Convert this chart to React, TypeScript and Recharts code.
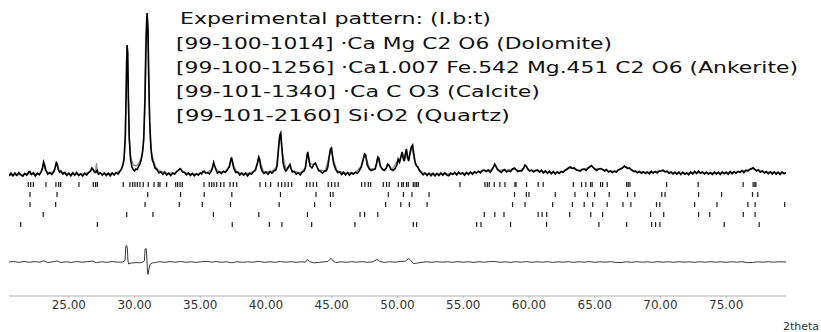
import { ComposedChart, Line, Scatter, XAxis, YAxis } from "recharts";

// observed pattern, 2theta vs counts
const observedCounts: [number, number][] = [
  [20.45, 110], [20.6, 138], [20.75, 112], [20.9, 140], [21.05, 115], [21.2, 145], [21.35, 120], [21.5, 108],
  [21.65, 135], [21.8, 118], [21.95, 150], [22.05, 155], [22.15, 125], [22.3, 142], [22.45, 110], [22.6, 138],
  [22.75, 122], [22.9, 150], [23.0, 195], [23.08, 250], [23.15, 225], [23.25, 170], [23.4, 128], [23.55, 145],
  [23.7, 125], [23.85, 150], [23.95, 190], [24.05, 245], [24.12, 230], [24.2, 175], [24.3, 148], [24.4, 160],
  [24.55, 130], [24.7, 145], [24.85, 115], [25.0, 140], [25.15, 112], [25.3, 142], [25.45, 118], [25.6, 145],
  [25.75, 115], [25.9, 132], [26.05, 110], [26.2, 138], [26.35, 120], [26.5, 145], [26.65, 160], [26.75, 190],
  [26.85, 175], [26.95, 150], [27.05, 145], [27.15, 165], [27.25, 128], [27.4, 142], [27.55, 118], [27.7, 140],
  [27.85, 115], [28.0, 138], [28.15, 112], [28.3, 140], [28.45, 120], [28.6, 145], [28.75, 130], [28.9, 160],
  [29.0, 180], [29.1, 215], [29.2, 280], [29.3, 520], [29.38, 1050], [29.43, 1420], [29.48, 1350], [29.53, 900],
  [29.6, 480], [29.7, 270], [29.8, 200], [29.9, 175], [30.0, 160], [30.1, 180], [30.2, 175], [30.3, 205],
  [30.4, 225], [30.5, 270], [30.6, 340], [30.7, 480], [30.8, 900], [30.88, 1450], [30.95, 1740], [31.02, 1600],
  [31.08, 1100], [31.15, 650], [31.25, 380], [31.35, 270], [31.45, 240], [31.55, 190], [31.7, 175], [31.85, 140],
  [32.0, 152], [32.15, 125], [32.3, 150], [32.45, 120], [32.6, 138], [32.75, 115], [32.9, 140], [33.05, 128],
  [33.2, 155], [33.35, 168], [33.45, 185], [33.55, 175], [33.65, 150], [33.8, 145], [33.95, 122], [34.1, 140],
  [34.25, 115], [34.4, 135], [34.55, 112], [34.7, 132], [34.85, 118], [35.0, 142], [35.1, 130], [35.2, 155],
  [35.3, 158], [35.4, 140], [35.55, 145], [35.7, 132], [35.85, 160], [35.95, 205], [36.02, 245], [36.1, 210],
  [36.2, 170], [36.3, 140], [36.45, 152], [36.6, 135], [36.75, 158], [36.9, 145], [37.05, 170], [37.2, 200],
  [37.3, 260], [37.38, 295], [37.45, 250], [37.55, 185], [37.7, 145], [37.85, 150], [38.0, 120], [38.15, 138],
  [38.3, 118], [38.45, 140], [38.6, 112], [38.75, 138], [38.9, 128], [39.05, 155], [39.2, 175], [39.35, 240],
  [39.45, 300], [39.52, 275], [39.6, 200], [39.7, 160], [39.85, 135], [40.0, 150], [40.15, 128], [40.3, 155],
  [40.45, 138], [40.6, 160], [40.75, 170], [40.85, 220], [40.95, 380], [41.05, 520], [41.12, 540], [41.2, 400],
  [41.3, 240], [41.4, 185], [41.5, 160], [41.6, 175], [41.75, 210], [41.82, 225], [41.9, 185], [42.0, 150],
  [42.15, 155], [42.3, 128], [42.45, 142], [42.6, 120], [42.75, 150], [42.9, 160], [43.0, 200], [43.1, 300],
  [43.17, 350], [43.25, 290], [43.35, 210], [43.5, 190], [43.65, 230], [43.75, 240], [43.85, 210], [44.0, 165],
  [44.15, 155], [44.3, 138], [44.45, 158], [44.6, 165], [44.7, 200], [44.8, 300], [44.9, 380], [44.98, 390],
  [45.05, 320], [45.15, 230], [45.3, 175], [45.45, 145], [45.6, 150], [45.75, 125], [45.9, 148], [46.05, 120],
  [46.2, 145], [46.35, 118], [46.5, 142], [46.65, 128], [46.8, 148], [46.95, 135], [47.1, 165], [47.25, 200],
  [47.4, 280], [47.5, 330], [47.58, 320], [47.7, 220], [47.85, 180], [48.0, 165], [48.15, 172], [48.3, 180],
  [48.4, 230], [48.5, 300], [48.58, 290], [48.7, 210], [48.85, 175], [49.0, 165], [49.15, 190], [49.25, 230],
  [49.35, 220], [49.5, 175], [49.65, 165], [49.8, 180], [49.95, 220], [50.05, 280], [50.15, 250], [50.25, 300],
  [50.35, 350], [50.42, 300], [50.5, 260], [50.6, 330], [50.68, 380], [50.75, 300], [50.85, 260], [50.95, 340],
  [51.05, 400], [51.15, 420], [51.25, 320], [51.35, 240], [51.45, 210], [51.55, 200], [51.65, 170], [51.8, 145],
  [51.95, 122], [52.1, 140], [52.25, 115], [52.4, 138], [52.55, 112], [52.7, 136], [52.85, 110], [53.0, 135],
  [53.15, 115], [53.3, 140], [53.45, 118], [53.6, 142], [53.75, 120], [53.9, 112], [54.05, 138], [54.2, 125],
  [54.35, 145], [54.5, 120], [54.65, 148], [54.8, 130], [54.95, 142], [55.1, 118], [55.25, 145], [55.4, 125],
  [55.55, 150], [55.7, 128], [55.85, 152], [56.0, 140], [56.15, 158], [56.3, 142], [56.45, 165], [56.6, 170],
  [56.75, 155], [56.9, 172], [57.05, 148], [57.2, 175], [57.3, 200], [57.4, 230], [57.48, 210], [57.6, 175],
  [57.75, 160], [57.9, 145], [58.05, 168], [58.15, 175], [58.3, 150], [58.45, 162], [58.6, 155], [58.75, 180],
  [58.9, 190], [59.0, 175], [59.15, 155], [59.3, 162], [59.45, 160], [59.6, 190], [59.7, 220], [59.8, 210],
  [59.9, 180], [60.05, 160], [60.2, 168], [60.35, 150], [60.5, 165], [60.65, 170], [60.8, 148], [60.95, 168],
  [61.1, 140], [61.25, 162], [61.4, 138], [61.55, 158], [61.7, 132], [61.85, 155], [62.0, 130], [62.15, 152],
  [62.3, 135], [62.45, 155], [62.6, 150], [62.75, 168], [62.9, 180], [63.05, 195], [63.15, 200], [63.3, 185],
  [63.45, 190], [63.6, 170], [63.75, 165], [63.9, 160], [64.05, 178], [64.2, 180], [64.35, 165], [64.5, 190],
  [64.65, 205], [64.75, 215], [64.85, 200], [65.0, 180], [65.15, 165], [65.3, 180], [65.45, 185], [65.6, 175],
  [65.75, 160], [65.9, 175], [66.05, 150], [66.2, 160], [66.35, 145], [66.5, 158], [66.65, 150], [66.8, 170],
  [66.95, 180], [67.1, 190], [67.25, 210], [67.35, 200], [67.5, 185], [67.65, 190], [67.8, 170], [67.95, 155],
  [68.1, 158], [68.25, 142], [68.4, 155], [68.55, 138], [68.7, 152], [68.85, 135], [69.0, 150], [69.15, 132],
  [69.3, 158], [69.45, 138], [69.6, 155], [69.75, 140], [69.9, 160], [70.05, 162], [70.2, 168], [70.35, 152],
  [70.5, 158], [70.65, 135], [70.8, 150], [70.95, 130], [71.1, 148], [71.25, 128], [71.4, 150], [71.55, 125],
  [71.7, 148], [71.85, 128], [72.0, 140], [72.15, 122], [72.3, 152], [72.45, 130], [72.6, 158], [72.75, 135],
  [72.9, 160], [73.05, 138], [73.2, 150], [73.35, 130], [73.5, 148], [73.65, 128], [73.8, 145], [73.95, 125],
  [74.1, 150], [74.25, 128], [74.4, 148], [74.55, 125], [74.7, 150], [74.85, 132], [75.0, 148], [75.15, 128],
  [75.3, 155], [75.45, 132], [75.6, 152], [75.75, 138], [75.9, 158], [76.05, 145], [76.2, 165], [76.35, 145],
  [76.5, 165], [76.65, 160], [76.8, 175], [76.95, 185], [77.05, 192], [77.15, 180], [77.3, 160], [77.45, 172],
  [77.6, 148], [77.75, 160], [77.9, 140], [78.05, 155], [78.2, 132], [78.35, 152], [78.5, 130], [78.65, 150],
  [78.8, 128], [78.95, 148], [79.1, 126], [79.25, 150], [79.4, 132], [79.55, 145],
];

// calculated (fitted) pattern
const calculatedCounts: [number, number][] = [
  [20.45, 120], [21, 122], [21.5, 124], [22, 135], [22.3, 128], [22.8, 130], [23.0, 180], [23.08, 235], [23.2, 170],
  [23.5, 135], [23.9, 160], [24.05, 230], [24.15, 215], [24.3, 150], [24.8, 130], [25.5, 128], [26.2, 130],
  [26.6, 150], [26.75, 180], [26.9, 160], [27.05, 170], [27.1, 240], [27.15, 160], [27.5, 132], [28.5, 135],
  [29.0, 170], [29.2, 260], [29.3, 500], [29.38, 1250], [29.44, 1400], [29.5, 1100], [29.58, 520], [29.7, 300],
  [29.9, 220], [30.1, 210], [30.3, 230], [30.5, 290], [30.65, 380], [30.75, 700], [30.85, 1500], [30.92, 1700],
  [31.0, 1550], [31.1, 900], [31.2, 480], [31.3, 330], [31.45, 260], [31.6, 200], [31.9, 160], [32.4, 140],
  [33.0, 138], [33.3, 160], [33.45, 180], [33.6, 160], [34.0, 135], [34.8, 128], [35.2, 145], [35.3, 155],
  [35.5, 140], [35.9, 180], [36.0, 235], [36.15, 190], [36.4, 150], [36.9, 155], [37.2, 200], [37.35, 285],
  [37.5, 220], [37.8, 145], [38.5, 130], [39.2, 160], [39.4, 280], [39.55, 250], [39.8, 155], [40.4, 150],
  [40.8, 200], [41.0, 480], [41.1, 530], [41.25, 330], [41.5, 180], [41.8, 215], [42.0, 160], [42.6, 140],
  [43.0, 190], [43.15, 330], [43.3, 240], [43.6, 220], [43.75, 235], [44.0, 170], [44.5, 160], [44.8, 300],
  [44.95, 380], [45.1, 280], [45.4, 160], [46.0, 140], [46.8, 145], [47.2, 200], [47.45, 310], [47.6, 290],
  [47.9, 180], [48.3, 180], [48.5, 290], [48.7, 200], [49.0, 170], [49.3, 220], [49.6, 175], [50.0, 260],
  [50.15, 240], [50.4, 330], [50.55, 270], [50.7, 360], [50.85, 280], [51.1, 400], [51.3, 260], [51.6, 180],
  [52.0, 135], [53, 130], [54, 132], [55, 135], [56.0, 145], [56.6, 165], [57.0, 160], [57.4, 215], [57.7, 170],
  [58.2, 165], [58.9, 180], [59.3, 160], [59.75, 210], [60.0, 170], [60.7, 160], [61.3, 150], [62.0, 142],
  [62.6, 150], [63.1, 190], [63.4, 185], [63.8, 165], [64.2, 175], [64.75, 210], [65.0, 180], [65.5, 180],
  [66.0, 160], [66.6, 155], [67.3, 205], [67.6, 185], [68.0, 160], [69.0, 145], [70.1, 160], [71, 142], [72, 138],
  [73, 145], [74, 140], [75, 142], [76, 150], [77.0, 185], [77.4, 165], [78, 150], [79.55, 140],
];

// observed - calculated
const differenceCounts: [number, number][] = [
  [20.45, 0], [20.8, 6], [21.2, -4], [21.6, 5], [22.0, -3], [22.4, 4], [22.8, -2], [23.1, 12], [23.4, -6],
  [23.8, 3], [24.1, 10], [24.4, -5], [24.8, 2], [25.2, -4], [25.6, 4], [26.0, -2], [26.4, 3], [26.8, 8],
  [27.1, -6], [27.5, 2], [27.9, -3], [28.3, 4], [28.7, -2], [29.1, 0], [29.28, 15], [29.33, 150], [29.4, 165],
  [29.45, 140], [29.5, 10], [29.55, -20], [29.65, -12], [29.8, -10], [30.0, -8], [30.2, -6], [30.4, -8],
  [30.6, -2], [30.75, 12], [30.8, 130], [30.88, 135], [30.93, 60], [30.98, -90], [31.03, -125], [31.1, -60],
  [31.2, -20], [31.35, -10], [31.6, -4], [31.9, 3], [32.3, -3], [32.7, 4], [33.1, -2], [33.5, 5], [33.9, -3],
  [34.3, 2], [34.7, -4], [35.1, 3], [35.5, 6], [35.9, -2], [36.2, 4], [36.6, -3], [37.0, 2], [37.4, -8],
  [37.8, 3], [38.2, -3], [38.6, 2], [39.0, -2], [39.45, 6], [39.9, -3], [40.3, 2], [40.7, -3], [41.1, 5],
  [41.5, -2], [41.9, 3], [42.3, -3], [42.7, 2], [43.0, -2], [43.15, 25], [43.3, 5], [43.6, -8], [44.0, -4],
  [44.4, 2], [44.7, 5], [44.95, 38], [45.1, 10], [45.3, -6], [45.7, 2], [46.1, -3], [46.5, 3], [46.9, -2],
  [47.3, 4], [47.7, -3], [48.1, 2], [48.45, 25], [48.65, 5], [49.0, -4], [49.4, 3], [49.8, -2], [50.2, 5],
  [50.6, 8], [50.85, 35], [51.0, 20], [51.2, -15], [51.45, -12], [51.8, -4], [52.2, 2], [52.6, -3], [53.0, 3],
  [53.4, -2], [53.8, 2], [54.2, -3], [54.6, 3], [55.0, -2], [55.4, 2], [55.8, -4], [56.2, 3], [56.6, -2],
  [57.0, 4], [57.4, 5], [57.8, -3], [58.2, 2], [58.6, -4], [59.0, 3], [59.4, -2], [59.8, 4], [60.2, -3],
  [60.6, 2], [61.0, -2], [61.4, 3], [61.8, -4], [62.2, 2], [62.6, -2], [63.0, 3], [63.4, -3], [63.8, 2],
  [64.2, -2], [64.6, 4], [65.0, -3], [65.4, 2], [65.8, -2], [66.2, 3], [66.6, -4], [67.0, -6], [67.4, 2],
  [67.8, -3], [68.2, 3], [68.6, -2], [69.0, 2], [69.4, -3], [69.8, 3], [70.2, -2], [70.6, 2], [71.0, -3],
  [71.4, 3], [71.8, -2], [72.2, 2], [72.6, -3], [73.0, 2], [73.4, -2], [73.8, 3], [74.2, -2], [74.6, 2],
  [75.0, -3], [75.4, 2], [75.8, -2], [76.2, 3], [76.6, -6], [77.0, -5], [77.4, 2], [77.8, -2], [78.2, 3],
  [78.6, -2], [79.0, 2], [79.55, 0],
];

// reflection positions (2theta) per row
const experimentalPeaks = [
  21.92, 22.1, 22.3, 23.26, 24.02, 24.23, 24.38, 25.77, 26.86, 27.04, 27.17, 29.14, 29.65, 29.86, 30.03, 30.21,
  30.41, 30.66, 31.04, 31.48, 31.8, 31.93, 32.44, 33.13, 33.28, 33.46, 33.63, 35.28, 35.68, 35.87, 36.04, 36.25,
  36.55, 36.8, 37.26, 37.51, 37.77, 39.54, 39.97, 40.35, 40.93, 41.19, 41.44, 41.69, 41.95, 43.09, 43.34, 43.59,
  43.85, 44.73, 44.99, 45.24, 45.49, 47.27, 47.52, 47.78, 47.96, 48.92, 49.17, 49.37, 50.06, 50.32, 50.44, 50.69,
  50.82, 51.2, 51.33, 51.46, 51.58, 54.75, 56.65, 56.83, 56.98, 57.36, 57.79, 58.17, 58.93, 59.01, 59.82, 60.7,
  61.08, 63.37, 64.0, 64.33, 64.69, 64.81, 65.45, 65.6, 65.95, 67.43, 67.55, 67.68, 70.47, 72.87, 76.29, 77.05,
  77.18, 77.26,
];
const dolomitePeaks = [
  22.05, 24.1, 31.0, 33.5, 35.3, 37.4, 41.1, 43.8, 44.9, 45.1, 49.3, 50.45, 51.1, 52.4, 58.9, 59.8, 60.0, 62.0,
  63.5, 64.45, 65.0, 66.1, 67.5, 68.05, 70.1, 70.35, 72.9, 74.65, 77.0, 77.4,
];
const ankeritePeaks = [
  22.05, 24.0, 30.8, 33.4, 35.15, 37.3, 41.0, 43.7, 44.9, 49.1, 50.25, 50.9, 52.25, 58.75, 59.7, 61.8, 63.3, 64.2,
  64.85, 65.95, 67.15, 67.75, 69.7, 69.95, 72.6, 74.3, 76.65, 77.2, 79.45,
];
const calcitePeaks = [
  23.05, 29.4, 31.4, 36.0, 39.45, 43.15, 47.15, 47.5, 48.5, 56.6, 57.4, 58.1, 60.7, 61.0, 61.35, 63.1, 64.7, 65.6,
  69.25, 70.25, 72.9, 73.75, 76.3, 77.2,
];
const quartzPeaks = [
  21.34, 27.17, 37.43, 40.25, 41.21, 43.47, 46.76, 51.2, 51.45, 56.02, 56.35, 58.6, 61.34, 65.32, 67.43, 69.33,
  69.63, 69.96, 74.85, 77.51,
];

const xTicks = [25, 30, 35, 40, 45, 50, 55, 60, 65, 70, 75];

const legendLines = [
  "Experimental pattern: (I.b:t)",
  "[99-100-1014] ·Ca Mg C2 O6  (Dolomite)",
  "[99-100-1256] ·Ca1.007 Fe.542 Mg.451 C2 O6  (Ankerite)",
  "[99-101-1340] ·Ca C O3  (Calcite)",
  "[99-101-2160] Si·O2  (Quartz)",
];

const toPoints = (rows: [number, number][]) => rows.map(([x, y]) => ({ x, y }));
const peakRows = [experimentalPeaks, dolomitePeaks, ankeritePeaks, calcitePeaks, quartzPeaks];

const TickMark = (props: any) => {
  const { cx, cy } = props;
  if (cx == null || cy == null) return null;
  return <line x1={cx} x2={cx} y1={cy - 2.5} y2={cy + 2.5} stroke="#1a1a1a" strokeWidth={1.2} />;
};

// legend text placement
const legendX = [180, 176, 176, 176, 176];
const legendW = [311, 436, 622, 364, 334];
const legendY = [24, 49, 73, 97, 121];

export default function App() {
  return (
    <div style={{ position: "absolute", left: 0, top: 0, width: 821, height: 332, background: "#fff" }}>
      <ComposedChart width={821} height={332} margin={{ top: 0, right: 35, left: 9, bottom: 0 }}>
        <XAxis
          dataKey="x"
          type="number"
          domain={[20.45, 79.55]}
          ticks={xTicks}
          allowDataOverflow
          height={36}
          stroke="#b0b0b0"
          tickSize={2}
          tickFormatter={(v: number) => v.toFixed(2)}
          tick={{ fill: "#333", fontSize: 12, fontFamily: "DejaVu Sans" }}
        />
        <YAxis yAxisId="obs" hide domain={[-1090, 1870]} allowDataOverflow />
        <YAxis yAxisId="diff" hide domain={[-340, 2620]} allowDataOverflow />
        <YAxis yAxisId="rows" hide reversed domain={[-18.45, 11.15]} allowDataOverflow />
        <Line
          yAxisId="obs"
          data={toPoints(calculatedCounts)}
          dataKey="y"
          stroke="#8f8f8f"
          strokeWidth={1.4}
          dot={false}
          isAnimationActive={false}
        />
        <Line
          yAxisId="obs"
          data={toPoints(observedCounts)}
          dataKey="y"
          stroke="#000"
          strokeWidth={1.6}
          dot={false}
          isAnimationActive={false}
        />
        <Line
          yAxisId="diff"
          data={toPoints(differenceCounts)}
          dataKey="y"
          stroke="#3a3a3a"
          strokeWidth={1}
          dot={false}
          isAnimationActive={false}
        />
        {peakRows.map((peaks, i) => (
          <Scatter
            key={i}
            yAxisId="rows"
            data={peaks.map((x) => ({ x, row: i }))}
            dataKey="row"
            shape={TickMark}
            isAnimationActive={false}
          />
        ))}
      </ComposedChart>
      <svg
        width={821}
        height={332}
        style={{ position: "absolute", left: 0, top: 0, pointerEvents: "none" }}
      >
        {legendLines.map((t, i) => (
          <text
            key={i}
            x={legendX[i]}
            y={legendY[i]}
            fontFamily="DejaVu Sans"
            fontSize={15}
            fill="#111"
            textLength={legendW[i]}
            lengthAdjust="spacingAndGlyphs"
          >
            {t}
          </text>
        ))}
        <text x={819} y={330} textAnchor="end" fontFamily="DejaVu Sans" fontSize={11} fill="#333">
          2theta
        </text>
      </svg>
    </div>
  );
}
